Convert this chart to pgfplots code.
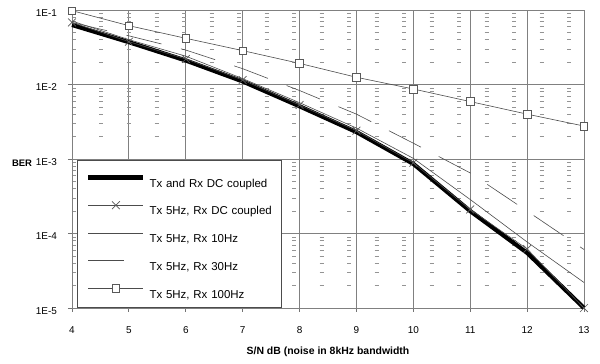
\documentclass[border=0pt]{standalone}
\usepackage{pgfplots}
\pgfplotsset{compat=1.18}
\usepackage{fontspec}
\setmainfont{Liberation Sans}
\begin{document}
\begin{tikzpicture}
\path[use as bounding box] (-72bp,-56bp) rectangle (528bp,308bp);
\begin{axis}[
  at={(0,0)}, anchor=south west,
  scale only axis, width=512bp, height=298bp,
  ymode=log, xmin=4, xmax=13, ymin=1e-5, ymax=1e-1,
  clip=false,
  xtick={4,5,6,7,8,9,10,11,12,13},
  xticklabels={4,5,6,7,8,9,10,11,12,13},
  ytick={1e-5,1e-4,1e-3,1e-2,1e-1},
  yticklabels={1E-5,1E-4,1E-3,1E-2,1E-1},
  minor ytick={2e-5,3e-5,4e-5,5e-5,6e-5,7e-5,8e-5,9e-5,
               2e-4,3e-4,4e-4,5e-4,6e-4,7e-4,8e-4,9e-4,
               2e-3,3e-3,4e-3,5e-3,6e-3,7e-3,8e-3,9e-3,
               2e-2,3e-2,4e-2,5e-2,6e-2,7e-2,8e-2,9e-2},
  grid=both,
  major grid style={black!50, line width=0.8bp},
  minor grid style={black!42, line width=0.8bp, dash pattern=on 4bp off 23.5bp},
  axis line style={black!50, line width=0.8bp},
  tick style={black!55, line width=0.8bp},
  major tick length=4bp, minor tick length=0pt,
  tick align=outside, tick pos=left,
  ticklabel style={font=\fontsize{10}{12}\selectfont},
  yticklabel style={xshift=-7.5bp, yshift=-3bp},
  xticklabel style={yshift=-11bp},
  xlabel={S/N dB (noise in 8kHz bandwidth},
  xlabel style={font=\bfseries\fontsize{10.5}{12}\selectfont, at={(axis description cs:0.5,0)}, anchor=center, yshift=-44bp},
  ylabel={BER},
  ylabel style={font=\bfseries\fontsize{9.5}{11}\selectfont, rotate=-90, at={(axis description cs:0,0.4866)}, anchor=center, xshift=-50bp},
  legend cell align=left,
  legend style={at={(axis description cs:0.00977,0.4966)}, anchor=north west,
    draw=black!70, line width=0.7bp, fill=white,
    font=\fontsize{11.5}{13}\selectfont,
    inner xsep=9bp, inner ysep=8.8bp, column sep=4bp, row sep=9.15bp,
    nodes={inner sep=0pt, text height=18bp, text depth=0.6bp, text width=123bp}},
  legend image code/.code={\draw[mark repeat=2,mark phase=2,#1] plot coordinates {(0bp,1bp) (27.5bp,1bp) (55bp,1bp)};},
]
\addplot[black, line width=4.2bp, line join=round] coordinates {
(4,0.063) (5,0.037) (6,0.021) (7,0.011) (8,0.0051) (9,0.0023) (10,8.6e-4) (11,2.0e-4) (12,5.5e-5) (13,1e-5)};
\addlegendentry{Tx and Rx DC coupled}
\addplot[black!70, line width=0.6bp, mark=x, mark size=5.5bp, mark options={solid, black!65, line width=0.7bp}] coordinates {
(4,0.068) (5,0.0376) (6,0.022) (7,0.0115) (8,0.0053) (9,0.0024) (10,8.9e-4) (11,2.1e-4) (12,6.2e-5) (13,1e-5)};
\addlegendentry{Tx 5Hz, Rx DC coupled}
\addplot[black!70, line width=0.6bp] coordinates {
(4,0.071) (5,0.040) (6,0.024) (7,0.012) (8,0.0057) (9,0.0026) (10,0.00102) (11,2.86e-4) (12,7.7e-5) (13,2.2e-5)};
\addlegendentry{Tx 5Hz, Rx 10Hz}
\addplot[black!70, line width=0.6bp, dash pattern=on 36bp off 20bp] coordinates {
(4,0.068) (5,0.045) (6,0.029) (7,0.0163) (8,0.0083) (9,0.0040) (10,0.00163) (11,6.5e-4) (12,2.0e-4) (13,6.1e-5)};
\addlegendentry{Tx 5Hz, Rx 30Hz}
\addplot[black!70, line width=0.6bp, mark=square*, mark size=3.8bp, mark options={solid, fill=white, draw=black!65, line width=0.6bp}] coordinates {
(4,0.098) (5,0.0616) (6,0.0417) (7,0.0285) (8,0.0192) (9,0.0125) (10,0.0087) (11,0.0059) (12,0.0040) (13,0.00277)};
\addlegendentry{Tx 5Hz, Rx 100Hz}
\end{axis}
\end{tikzpicture}
\end{document}
